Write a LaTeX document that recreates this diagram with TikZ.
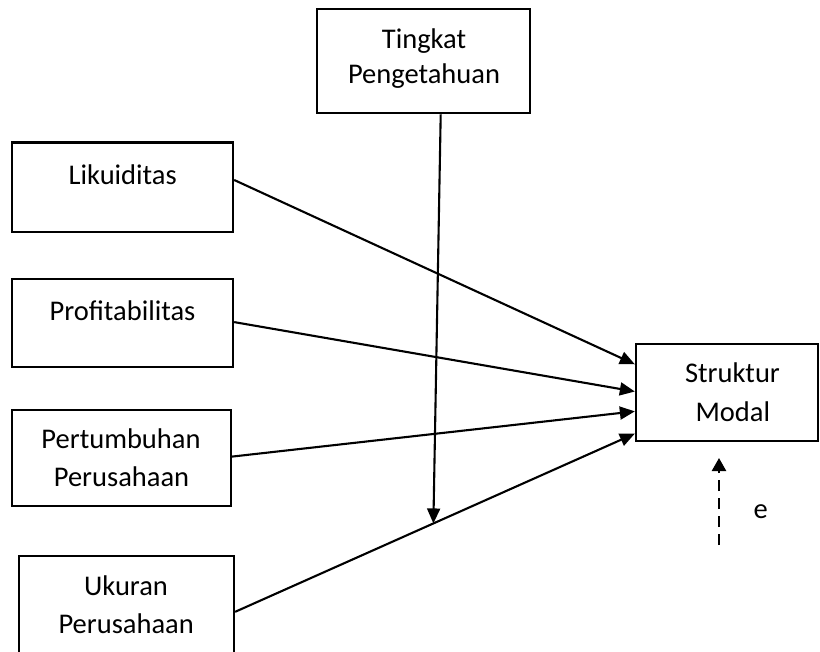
\documentclass[tikz,border=0pt]{standalone}
\usepackage{fontspec}
\setmainfont{Carlito}
\usetikzlibrary{arrows.meta,calc}
\begin{document}
\begin{tikzpicture}[x=1pt,y=-1pt,
  box/.style={draw=black,line width=2.3pt,rectangle,inner sep=0pt},
  lbl/.style={anchor=base,inner sep=0pt,font=\fontsize{28.5}{35}\selectfont},
  conn/.style={line width=2.1pt,-{Triangle[length=15pt,width=13pt]}},
  errarrow/.style={line width=2.4pt,dash pattern=on 11pt off 7pt,-{Triangle[length=13pt,width=14pt]}}]
\useasboundingbox (0,0) rectangle (820,652);
\clip (0,0) rectangle (820,652);
% boxes
\node[box,minimum width=213.3pt,minimum height=104pt] (tp) at (423.3,61.3) {};
\node[box,minimum width=221pt,minimum height=89.3pt] (liq) at (122.5,187.3) {};
\node[box,minimum width=221pt,minimum height=88pt] (prof) at (122.5,323) {};
\node[box,minimum width=218.7pt,minimum height=96pt] (pert) at (121.3,458) {};
\node[box,minimum width=215.3pt,minimum height=150pt] (uk) at (126.3,631) {};
\node[box,minimum width=182pt,minimum height=97pt] (sm) at (727,392.5) {};
% labels
\node[lbl] (tp1) at (424,48.3) {Tingkat};
\node[lbl] (tp2) at (424,83.3) {Pengetahuan};
\node[lbl] (liqt) at (122.7,185) {Likuiditas};
\node[lbl] (proft) at (122.5,321) {Profitabilitas};
\node[lbl] (pert1) at (121,449) {Pertumbuhan};
\node[lbl] (pert2) at (121.5,486.7) {Perusahaan};
\node[lbl] (uk1) at (126,595) {Ukuran};
\node[lbl] (uk2) at (126.2,633) {Perusahaan};
\node[lbl] (sm1) at (732.5,383) {Struktur};
\node[lbl] (sm2) at (732.8,421) {Modal};
\node[lbl] (elbl) at (760.7,518) {e};
% connector anchor points
\coordinate (la) at ($(liq.north east)!0.42!(liq.south east)$);
\coordinate (lb) at ($(sm.north west)!0.216!(sm.south west)$);
\coordinate (pa) at ($(prof.north east)!0.49!(prof.south east)$);
\coordinate (pb) at ($(sm.north west)!0.49!(sm.south west)$);
\coordinate (ga) at ($(pert.north east)!0.486!(pert.south east)$);
\coordinate (gb) at ($(sm.north west)!0.69!(sm.south west)$);
\coordinate (ua) at ($(uk.north east)+(0,57)$);
\coordinate (ub) at ($(sm.north west)!0.914!(sm.south west)$);
\coordinate (ta) at ($(tp.south)+(17.4,0)$);
\coordinate (tb) at ($(ua)!0.496!(ub)$);
\coordinate (etail) at (719,545);
\coordinate (etip) at (719,458);
% connectors
\draw[conn] (la) -- (lb);
\draw[conn] (pa) -- (pb);
\draw[conn] (ga) -- (gb);
\draw[conn] (ua) -- (ub);
\draw[conn] (ta) -- (tb);
\draw[errarrow] (etail) -- (etip);
\end{tikzpicture}
\end{document}
